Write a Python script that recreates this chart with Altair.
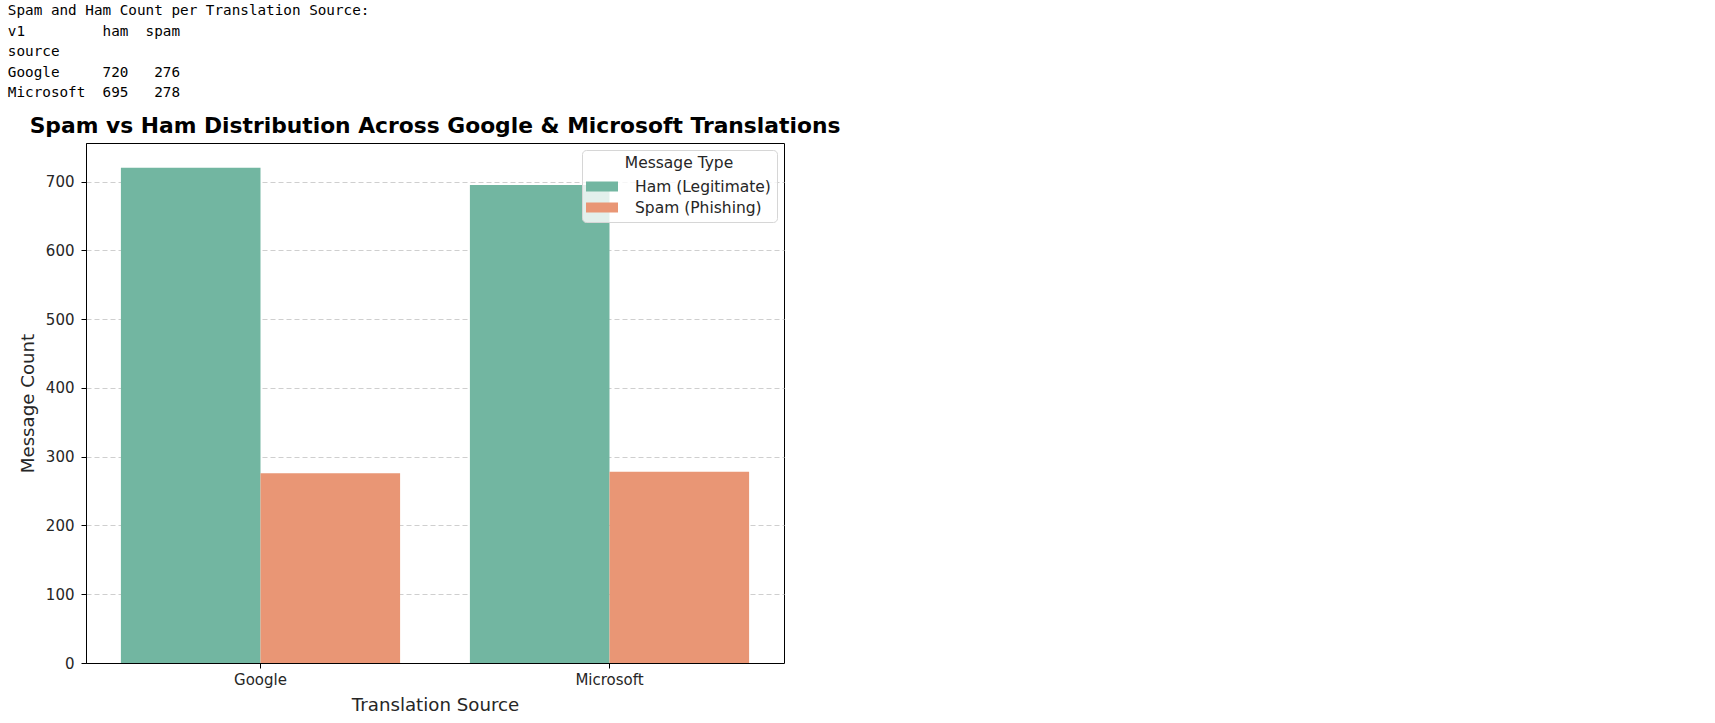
import altair as alt
import pandas as pd

sources = ["Google", "Microsoft"]
ham_counts = [720, 695]
spam_counts = [276, 278]
type_labels = ["Ham (Legitimate)", "Spam (Phishing)"]
type_colors = ["#72b6a1", "#e99675"]

NB = "\u00a0"
text_lines = [
    "Spam and Ham Count per Translation Source:",
    "v1         ham  spam",
    "source",
    "Google     720   276",
    "Microsoft  695   278",
]
text_lines = [l.replace(" ", NB) for l in text_lines]

rows = []
for s, h, sp in zip(sources, ham_counts, spam_counts):
    rows.append({"source": s, "type": type_labels[0], "count": h})
    rows.append({"source": s, "type": type_labels[1], "count": sp})
df = pd.DataFrame(rows)

font = "DejaVu Sans"
tick_fs = 15
title_fs = 18.2
leg_fs = 15.5

bars = alt.Chart(df).mark_bar().encode(
    x=alt.X(
        "source:N",
        sort=sources,
        title="Translation Source",
        scale=alt.Scale(paddingInner=0.2, paddingOuter=0.1),
        axis=alt.Axis(
            labelAngle=0, grid=False, tickSize=5, labelPadding=4,
            titlePadding=9, domainColor="#000000", tickColor="#000000",
            labelFontSize=tick_fs, titleFontSize=title_fs, labelColor="#262626",
            titleColor="#262626", titleFontWeight="normal",
        ),
    ),
    xOffset=alt.XOffset("type:N", sort=type_labels, scale=alt.Scale(paddingInner=0, paddingOuter=0)),
    y=alt.Y(
        "count:Q",
        title="Message Count",
        scale=alt.Scale(domain=[0, 756], nice=False, zero=True),
        axis=alt.Axis(
            values=[0, 100, 200, 300, 400, 500, 600, 700],
            grid=True, gridDash=[5, 3], gridColor="#cfcfcf", gridWidth=1,
            tickSize=5, labelPadding=7, titlePadding=8,
            domainColor="#000000", tickColor="#000000",
            labelFontSize=tick_fs, titleFontSize=title_fs, labelColor="#262626",
            titleColor="#262626", titleFontWeight="normal",
        ),
    ),
    color=alt.Color(
        "type:N",
        sort=type_labels,
        scale=alt.Scale(domain=type_labels, range=type_colors),
        legend=alt.Legend(
            title="Message Type",
            orient="top-right",
            offset=7,
            fillColor="rgba(255,255,255,0.8)",
            strokeColor="#d6d6d6",
            cornerRadius=4,
            padding=6,
            titleAnchor="middle",
            titleFontSize=leg_fs,
            titleFontWeight="normal",
            titleColor="#262626",
            titlePadding=5,
            labelFontSize=leg_fs,
            labelColor="#262626",
            symbolType="M-1.6,-0.5H1.6V0.5H-1.6Z",
            symbolSize=400,
            symbolStrokeWidth=0,
            symbolOpacity=1,
            symbolOffset=4,
            rowPadding=2,
            labelOffset=23,
        ),
    ),
).properties(
    width=698,
    height=520,
    title=alt.TitleParams(
        "Spam vs Ham Distribution Across Google & Microsoft Translations",
        fontSize=21.8, fontWeight="bold", font=font, anchor="middle",
        color="#000000", offset=5,
    ),
)

chart = alt.vconcat(bars).properties(
    title=alt.TitleParams(
        text_lines,
        font="DejaVu Sans Mono",
        fontSize=14.3,
        fontWeight="normal",
        anchor="start",
        frame="bounds",
        lineHeight=20.5,
        color="#000000",
        offset=15,
        dx=-10,
    ),
    padding={"left": 7, "top": 4, "right": 5, "bottom": 2},
).configure(
    font=font,
).configure_view(
    stroke="#000000", strokeWidth=1,
).configure_concat(spacing=0)

chart.save("out.html", embed_options={"renderer": "svg", "actions": False})
